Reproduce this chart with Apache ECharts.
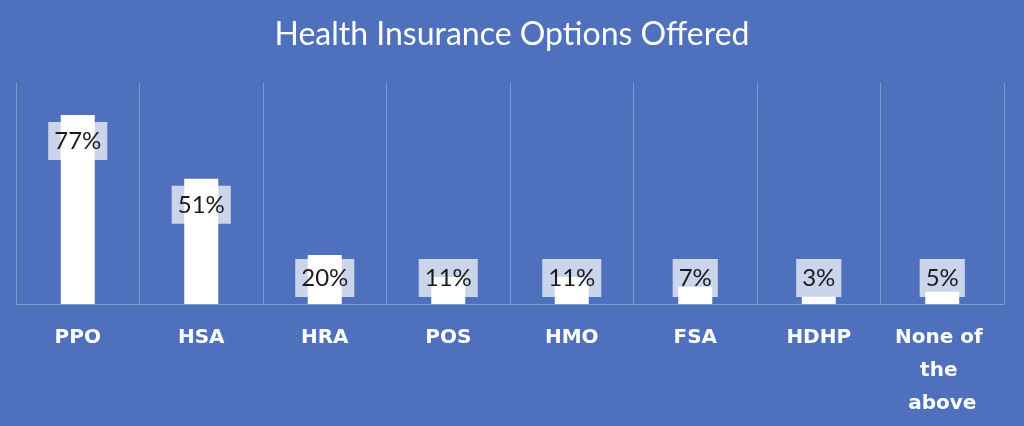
<!DOCTYPE html>
<html>
<head>
<meta charset="utf-8">
<script src="https://cdn.jsdelivr.net/npm/echarts@6/dist/echarts.min.js"></script>
<style>
  html, body { margin: 0; padding: 0; background: #4f71bd; }
  #graficoSeguros { width: 1024px; height: 426px; }
</style>
</head>
<body>
<div id="graficoSeguros"></div>
<script>
// Datos del gráfico
var categorias = ["PPO", "HSA", "HRA", "POS", "HMO", "FSA", "HDHP", "None of the above"];
var porcentajes = [77, 51, 20, 11, 11, 7, 3, 5];

var lineaSuave = "rgba(255,255,255,0.28)";

// Etiquetas: dentro de la barra si es alta, apoyadas sobre la base si es baja
var datosSerie = [];
for (var i = 0; i < porcentajes.length; i++) {
  datosSerie.push({
    value: porcentajes[i],
    label: { position: porcentajes[i] > 30 ? "insideTop" : "insideBottom" },
  });
}

var optionSeguros = {
  backgroundColor: "#4f71bd",
  title: {
    text: "Health Insurance Options Offered",
    left: "center",
    top: 14,
    textStyle: {
      color: "#ffffff",
      fontFamily: "Lato",
      fontWeight: "normal",
      fontSize: 32,
    },
  },
  grid: {
    left: 16,
    right: 20,
    top: 83,
    bottom: 122,
  },
  xAxis: {
    type: "category",
    data: categorias,
    axisLine: { lineStyle: { color: lineaSuave, width: 1 } },
    axisTick: { show: false },
    splitLine: { show: true, lineStyle: { color: lineaSuave, width: 1 } },
    axisLabel: {
      color: "#ffffff",
      fontFamily: "DejaVu Sans",
      fontWeight: "bold",
      fontSize: 20,
      lineHeight: 33,
      margin: 17,
      width: 108,
      overflow: "break",
      interval: 0,
    },
  },
  yAxis: {
    type: "value",
    min: 0,
    max: 90,
    show: false,
    splitLine: { show: false },
  },
  series: [
    {
      type: "bar",
      data: datosSerie,
      barWidth: 34,
      itemStyle: { color: "#ffffff" },
      label: {
        show: true,
        distance: 7,
        formatter: "{c}%",
        color: "#1b1b1b",
        fontFamily: "Lato",
        fontSize: 24,
        backgroundColor: "rgba(255,255,255,0.7)",
        padding: [7, 6, 7, 6],
      },
    },
  ],
};

var chartSeguros = echarts.init(document.getElementById("graficoSeguros"));
chartSeguros.setOption(optionSeguros);
</script>
</body>
</html>
